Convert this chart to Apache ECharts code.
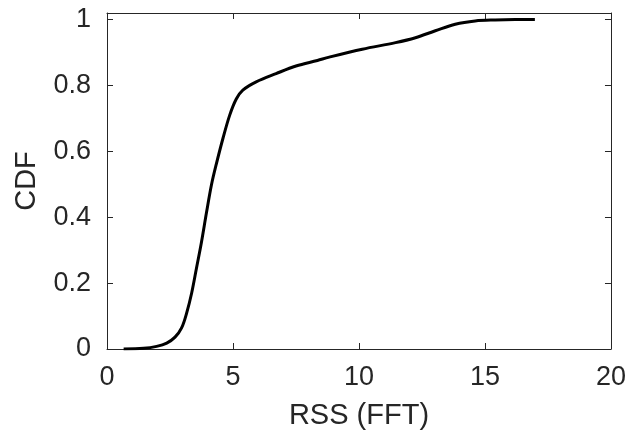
<!DOCTYPE html>
<html>
<head>
<meta charset="utf-8">
<script src="https://cdn.jsdelivr.net/npm/echarts@6/dist/echarts.min.js"></script>
<style>
html,body{margin:0;padding:0;background:#fff;}
#chart{width:629px;height:438px;}
</style>
</head>
<body>
<div id="chart"></div>
<script>
var rssValues = [0.66,1.45,1.97,2.37,2.70,2.96,3.16,3.36,3.55,3.75,3.95,4.15,4.34,4.60,4.87,5.13,5.39,5.92,6.71,7.50,8.35,8.82,10.13,11.45,12.24,13.03,13.82,14.61,15.40,16.2,16.98];
var cdfValues = [0,0.002,0.008,0.018,0.036,0.064,0.109,0.170,0.245,0.325,0.415,0.500,0.562,0.639,0.710,0.759,0.786,0.811,0.836,0.859,0.876,0.886,0.910,0.930,0.945,0.966,0.986,0.996,0.999,1.0,1.0];
var xTicks = [0,5,10,15,20];
var yTicks = [0,0.2,0.4,0.6,0.8,1];
var xLabel = 'RSS (FFT)';
var yLabel = 'CDF';

var points = rssValues.map(function(x,i){return [x, cdfValues[i]];});
var axisColor = '#262626';
var font = 'Liberation Sans, Arial, Helvetica, sans-serif';

function boxAxis(extra){
  var base = {
    type:'value',
    axisLine:{show:true,onZero:false,lineStyle:{color:axisColor,width:1}},
    axisTick:{show:true,inside:true,length:6,lineStyle:{color:axisColor}},
    axisLabel:{show:false},
    splitLine:{show:false}
  };
  for (var k in extra) base[k] = extra[k];
  return base;
}

var chart = echarts.init(document.getElementById('chart'), null, {renderer:'canvas'});
chart.setOption({
  animation:false,
  backgroundColor:'#fff',
  grid:{left:107,right:16,top:13,bottom:89,containLabel:false},
  xAxis:[
    boxAxis({min:xTicks[0], max:xTicks[xTicks.length-1], interval:xTicks[1]-xTicks[0], position:'bottom',
      axisLabel:{show:true,fontSize:27,color:axisColor,fontFamily:font,margin:15},
      name:xLabel, nameLocation:'middle', nameGap:52,
      nameTextStyle:{fontSize:29,color:axisColor,fontFamily:font}}),
    boxAxis({min:xTicks[0], max:xTicks[xTicks.length-1], interval:xTicks[1]-xTicks[0], position:'top'})
  ],
  yAxis:[
    boxAxis({min:0, max:1.02, interval:0.2, position:'left',
      axisLabel:{show:true,fontSize:27,color:axisColor,fontFamily:font,margin:16,
        formatter:function(v){
          for (var i=0;i<yTicks.length;i++){ if (Math.abs(v-yTicks[i])<1e-9) return String(yTicks[i]); }
          return '';
        }},
      name:yLabel, nameLocation:'middle', nameGap:66,
      nameTextStyle:{fontSize:29,color:axisColor,fontFamily:font}}),
    boxAxis({min:0, max:1.02, interval:0.2, position:'right'})
  ],
  series:[{
    type:'line',
    xAxisIndex:0, yAxisIndex:0,
    data:points,
    smooth:0.35,
    showSymbol:false,
    symbol:'none',
    lineStyle:{color:'#000',width:3},
    z:5
  }]
});
</script>
</body>
</html>
